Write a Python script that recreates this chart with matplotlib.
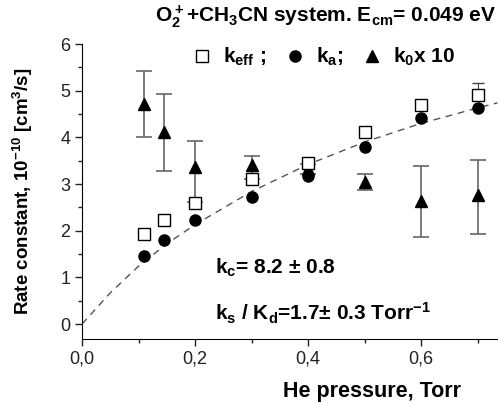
import numpy as np
import matplotlib
matplotlib.use('Agg')
from matplotlib import pyplot as plt
from matplotlib.lines import Line2D

plt.rcParams['font.family'] = ['Liberation Sans', 'DejaVu Sans']
plt.rcParams['mathtext.default'] = 'regular'

# He pressure, Torr
pressure = [0.11, 0.145, 0.2, 0.3, 0.4, 0.5, 0.6, 0.7]
k_eff = [1.92, 2.22, 2.6, 3.1, 3.45, 4.11, 4.7, 4.9]
k_eff_lo = [0.06, 0.06, 0.06, 0.06, 0.06, 0.06, 0.06, 0.06]
k_eff_hi = [0.06, 0.06, 0.06, 0.06, 0.06, 0.06, 0.06, 0.26]
k_a = [1.45, 1.81, 2.23, 2.73, 3.17, 3.8, 4.42, 4.62]
k0_x10 = [4.72, 4.11, 3.36, 3.4, 3.32, 3.04, 2.63, 2.76]
k0_lo = [0.72, 0.83, 0.75, 0.3, 0.1, 0.17, 0.77, 0.83]
k0_hi = [0.7, 0.82, 0.56, 0.2, 0.1, 0.17, 0.75, 0.75]

# dashed fit curve
fit_p = [0.0, 0.05, 0.1, 0.15, 0.2, 0.3, 0.4, 0.5, 0.6, 0.7, 0.735]
fit_k = [0.0, 0.67, 1.24, 1.72, 2.13, 2.84, 3.42, 3.9, 4.3, 4.63, 4.74]

fig = plt.figure(figsize=(4.98, 4.03), dpi=100)
ax = fig.add_axes([0.1647, 0.1588, 0.8353, 0.732])

ax.plot(fit_p, fit_k, '--', color='#555555', lw=1.0, dashes=(5, 4))
ax.errorbar(pressure, k0_x10, yerr=[k0_lo, k0_hi], fmt='^', color='black', ms=9,
            ecolor='#666666', elinewidth=1.2, capsize=6, capthick=1.2)
ax.errorbar(pressure, k_eff, yerr=[k_eff_lo, k_eff_hi], fmt='s', mfc='white',
            mec='black', ms=9, mew=1.0, ecolor='#444444', elinewidth=0.8,
            capsize=4, capthick=0.8)
ax.plot(pressure, k_a, 'o', color='black', ms=8)

ax.set_xlim(0, 0.736)
ax.set_ylim(-0.32, 6)
ax.set_xticks([0.0, 0.2, 0.4, 0.6])
ax.set_xticklabels(['0,0', '0,2', '0,4', '0,6'])
ax.set_xticks(np.arange(0.1, 0.75, 0.2), minor=True)
ax.set_yticks(range(7))
ax.set_yticks(np.arange(0.5, 6, 1.0), minor=True)
ax.tick_params(which='major', direction='out', length=5, width=1, labelsize=13, colors='#222222')
ax.tick_params(which='minor', direction='out', length=3, width=1, colors='#222222')
ax.spines['top'].set_visible(False)
ax.spines['right'].set_visible(False)

ax.set_ylabel('Rate constant, 10$^{-10}$ [cm$^3$/s]', fontsize=13.5, fontweight='bold')
ax.yaxis.set_label_coords(-0.112, 0.5)
fig.text(372 / 498, 1 - 392 / 403, 'He pressure, Torr', fontsize=15.5, fontweight='bold',
         ha='center', va='center')

fig.text(496 / 498, 1 - 17 / 403, 'O$_2^+$+CH$_3$CN system. E$_{cm}$= 0.049 eV',
         fontsize=15, fontweight='bold', ha='right', va='center')

handles = [Line2D([], [], ls='none', marker='s', mfc='white', mec='black', ms=9),
           Line2D([], [], ls='none', marker='o', color='black', ms=8),
           Line2D([], [], ls='none', marker='^', color='black', ms=9)]
labels = ['k$_{eff}$ ;', 'k$_a$;', 'k$_0$x 10']
ax.legend(handles, labels, ncol=3, frameon=False, loc='center',
          bbox_to_anchor=(0.58, 0.955), handletextpad=0.5, columnspacing=0.9,
          handlelength=1.0, borderpad=0, prop={'size': 15, 'weight': 'bold'})

fig.text(215 / 498, 1 - 268 / 403, 'k$_c$= 8.2 ± 0.8', fontsize=15, fontweight='bold',
         ha='left', va='center')
fig.text(215 / 498, 1 - 313 / 403, 'k$_s$ / K$_d$=1.7± 0.3 Torr$^{-1}$', fontsize=15,
         fontweight='bold', ha='left', va='center')

fig.savefig('out.png', dpi=100)
